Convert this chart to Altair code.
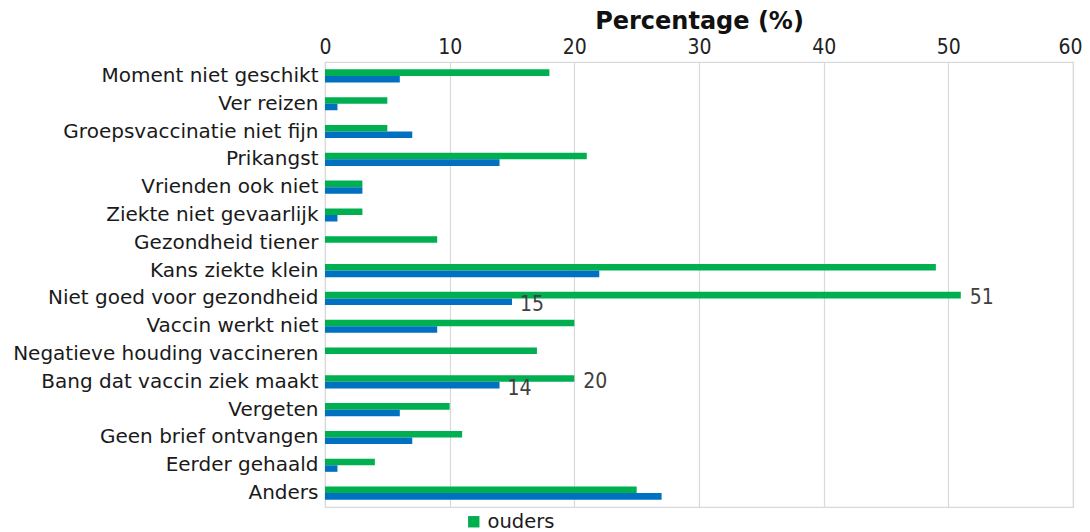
import altair as alt
import pandas as pd

categories = [
    "Moment niet geschikt", "Ver reizen", "Groepsvaccinatie niet fijn", "Prikangst",
    "Vrienden ook niet", "Ziekte niet gevaarlijk", "Gezondheid tiener", "Kans ziekte klein",
    "Niet goed voor gezondheid", "Vaccin werkt niet", "Negatieve houding vaccineren",
    "Bang dat vaccin ziek maakt", "Vergeten", "Geen brief ontvangen", "Eerder gehaald", "Anders",
]
ouders = [18, 5, 5, 21, 3, 3, 9, 49, 51, 20, 17, 20, 10, 11, 4, 25]
jongeren = [6, 1, 7, 14, 3, 1, 0, 22, 15, 9, 0, 14, 6, 7, 1, 27]
series_names = ["ouders", "jongeren"]
series_colors = ["#00AF50", "#0070C0"]
labelled = ["Niet goed voor gezondheid", "Bang dat vaccin ziek maakt"]

rows = []
for c, o, j in zip(categories, ouders, jongeren):
    rows.append({"cat": c, "serie": "ouders", "val": o, "lab": str(o) if c in labelled else ""})
    rows.append({"cat": c, "serie": "jongeren", "val": j, "lab": str(j) if c in labelled else ""})
df = pd.DataFrame(rows)

cond = "DejaVu Sans Condensed, Liberation Sans Narrow, Roboto Condensed, DejaVu Sans"

y_enc = alt.Y("cat:N", sort=categories,
              scale=alt.Scale(paddingInner=0.53, paddingOuter=0.265),
              axis=alt.Axis(title=None, labelFont="DejaVu Sans", labelFontSize=20,
                            labelColor="#1a1a1a", ticks=False, domain=False,
                            labelPadding=7, labelLimit=400))
x_enc = alt.X("val:Q", scale=alt.Scale(domain=[0, 60], nice=False),
              axis=alt.Axis(orient="top", values=[0, 10, 20, 30, 40, 50, 60],
                            title="Percentage (%)", titleFont="DejaVu Sans", titleFontSize=24,
                            titleFontWeight="bold", titleColor="#111", titlePadding=3,
                            labelFont=cond, labelFontSize=21, labelColor="#222",
                            labelFlush=False, ticks=False, domain=False, labelPadding=5,
                            labelOffset={"condition": {"test": "datum.value == 60", "value": -3},
                                         "value": 0},
                            gridColor="#d9d9d9", gridWidth=1.2))

bars = alt.Chart(df).mark_bar().encode(
    y=y_enc,
    yOffset=alt.YOffset("serie:N", sort=series_names,
                        scale=alt.Scale(paddingInner=0, paddingOuter=0)),
    x=x_enc,
    color=alt.Color("serie:N", scale=alt.Scale(domain=series_names, range=series_colors),
                    legend=alt.Legend(values=["ouders"], title=None, orient="none",
                                      legendX=139, legendY=450, symbolType="square",
                                      symbolSize=130, symbolStrokeWidth=0,
                                      symbolOpacity=1,
                                      labelFont="DejaVu Sans", labelFontSize=19.5,
                                      labelColor="#1a1a1a", labelOffset=4)),
)

lab_o = alt.Chart(df[df["serie"] == "ouders"]).mark_text(
    align="left", baseline="middle", dx=9, dy=0, font=cond, fontSize=21, color="#404040"
).encode(y=alt.Y("cat:N", sort=categories), x="val:Q", text="lab:N")

lab_j = alt.Chart(df[df["serie"] == "jongeren"]).mark_text(
    align="left", baseline="middle", dx=8, dy=7, font=cond, fontSize=21, color="#404040"
).encode(y=alt.Y("cat:N", sort=categories), x="val:Q", text="lab:N")

chart = alt.layer(bars, lab_o, lab_j).properties(
    width=748, height=445,
    autosize=alt.AutoSizeParams(type="none"),
    padding={"left": 317, "top": 54, "right": 9, "bottom": 30},
).configure_view(stroke="#d9d9d9", strokeWidth=1.2)

chart.save("out.html", embed_options={"renderer": "svg", "actions": False})
